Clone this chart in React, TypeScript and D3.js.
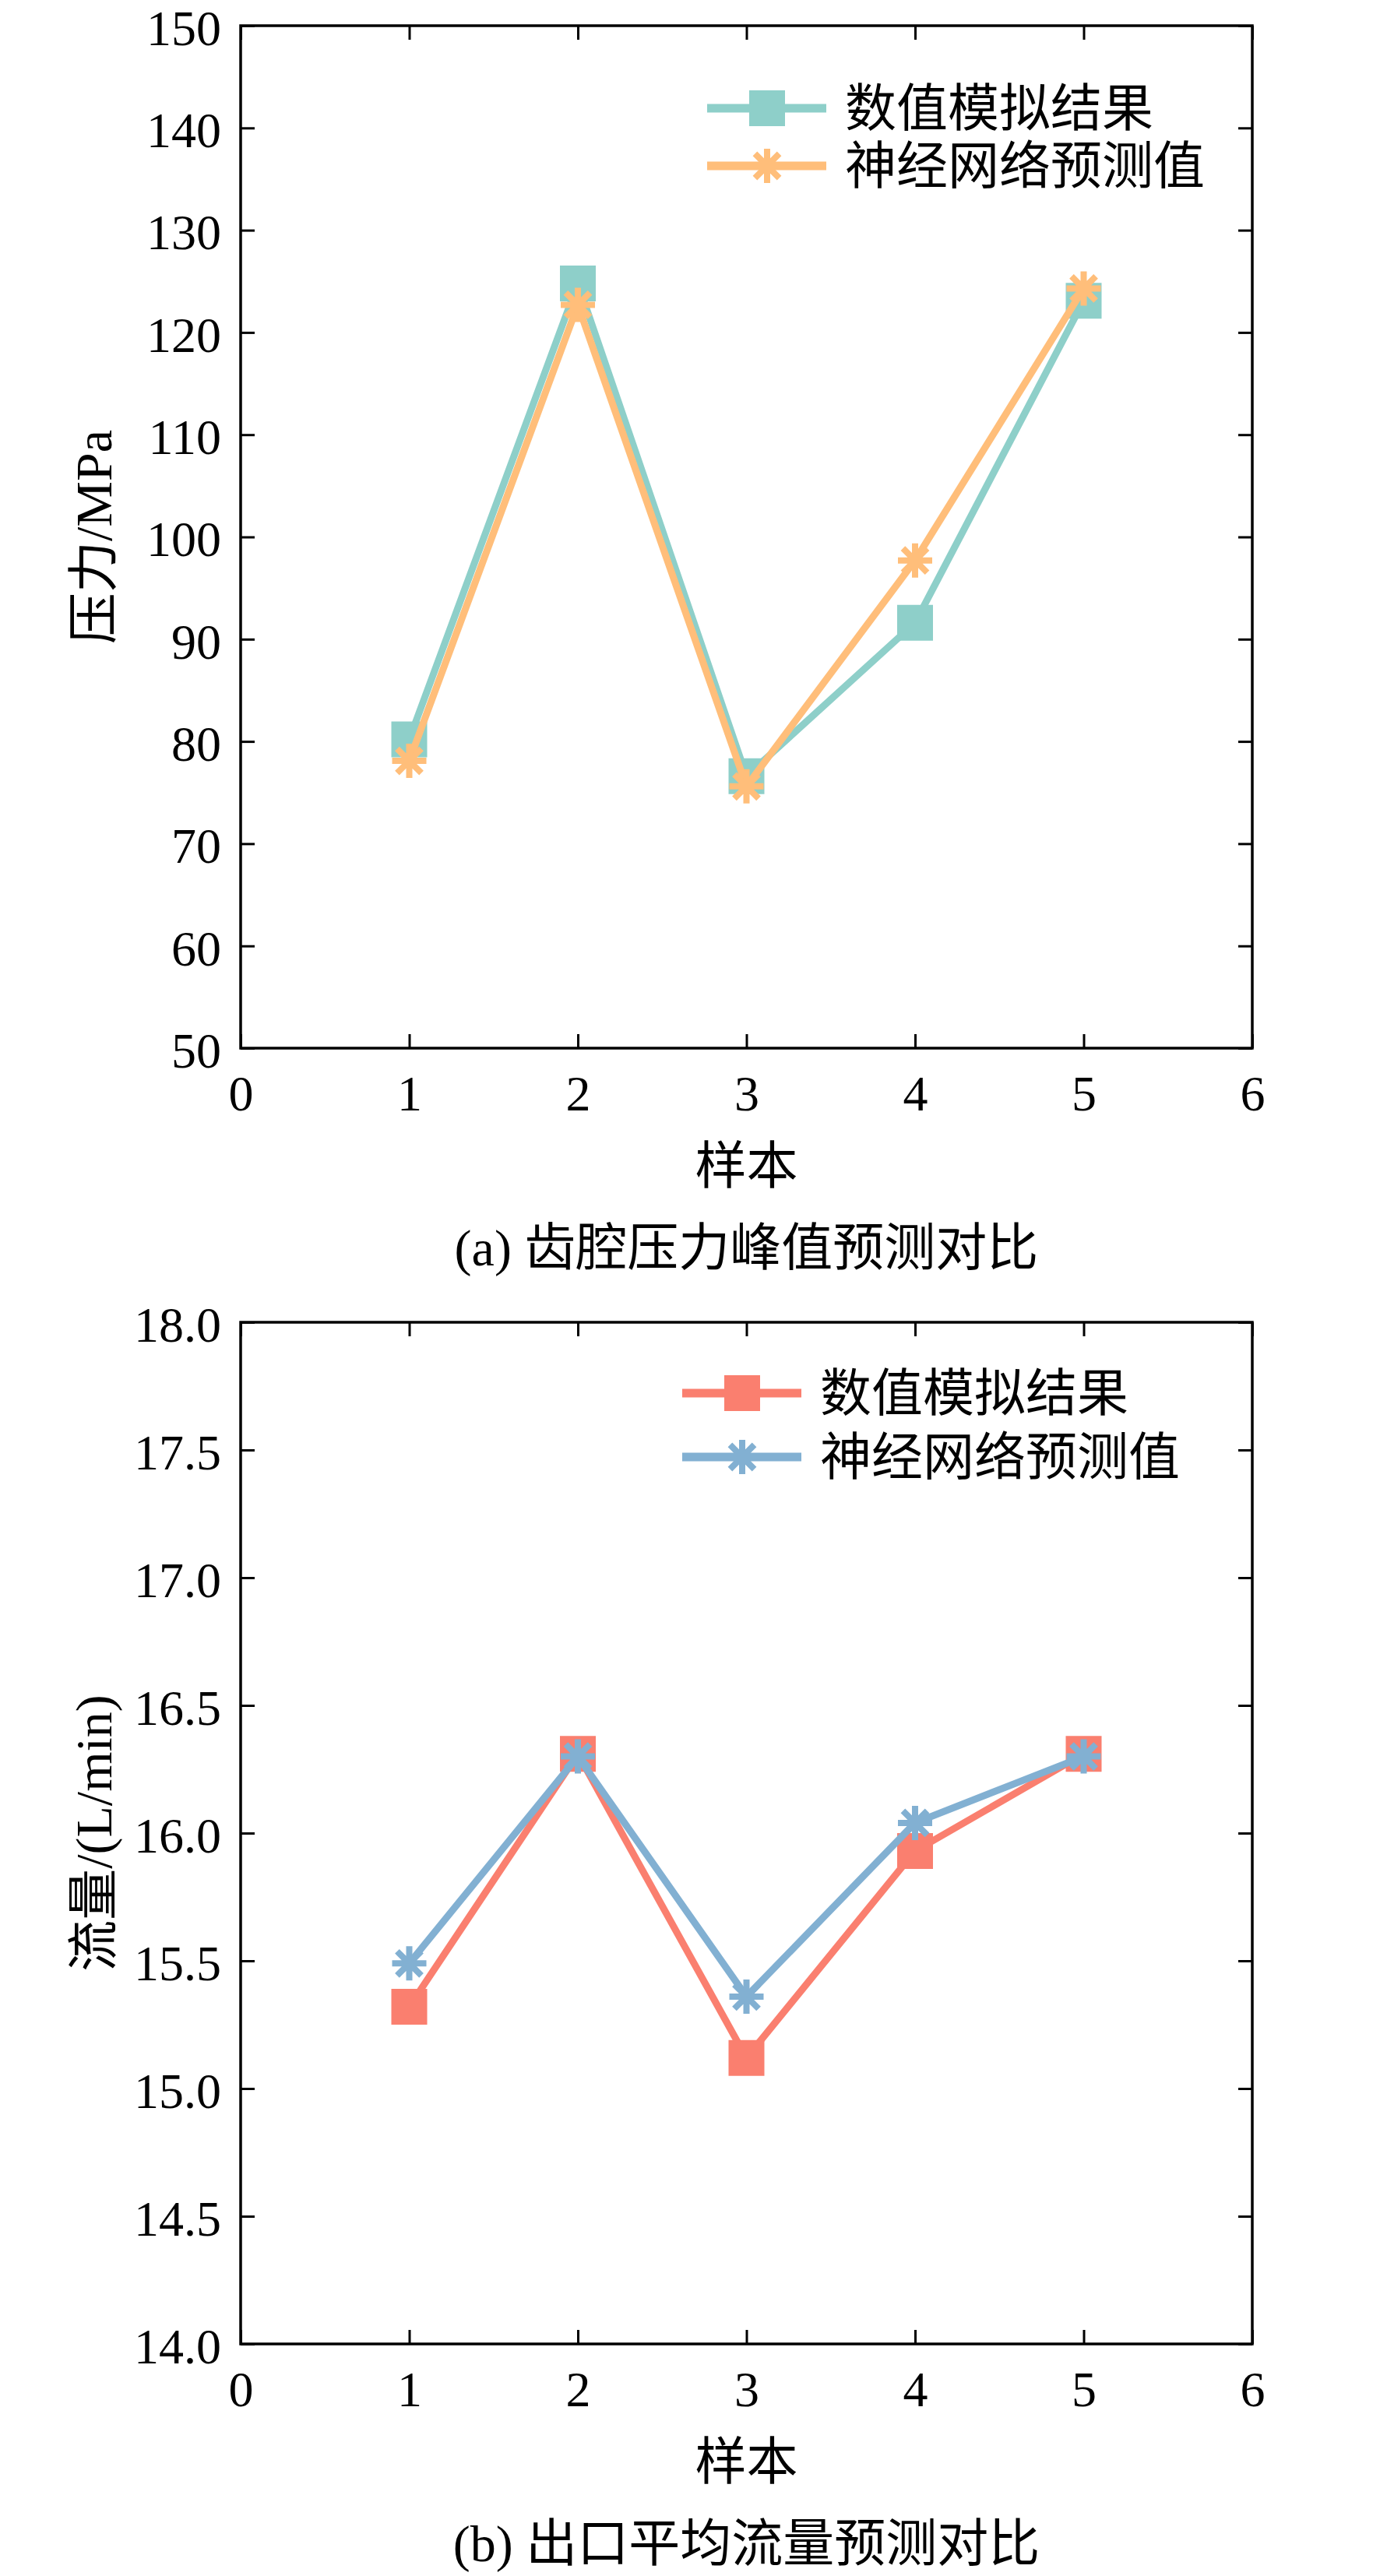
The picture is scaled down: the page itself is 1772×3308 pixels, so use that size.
import React, { useEffect, useRef } from 'react';
import * as d3 from 'd3';

// samples on the x axis
const samples = [1, 2, 3, 4, 5];
const xTicks = [0, 1, 2, 3, 4, 5, 6];

// (a) peak pressure, MPa
const pressureSim = [80.2, 124.8, 76.6, 91.6, 123.1];
const pressureNN = [78.1, 122.7, 75.6, 97.7, 124.3];
const pressureTicks = [50, 60, 70, 80, 90, 100, 110, 120, 130, 140, 150];

// (b) mean outlet flow, L/min
const flowSim = [15.32, 16.31, 15.12, 15.93, 16.31];
const flowNN = [15.49, 16.3, 15.36, 16.04, 16.3];
const flowTicks = [14.0, 14.5, 15.0, 15.5, 16.0, 16.5, 17.0, 17.5, 18.0];

const seriesNames = ['数值模拟结果', '神经网络预测值'];

const FONT = "'Liberation Serif', 'Times New Roman', 'Noto Sans CJK SC', serif";

function asteriskPath(r: number) {
  const d = r * Math.SQRT1_2;
  return `M0,${-r}L0,${r}M${-r},0L${r},0M${-d},${-d}L${d},${d}M${-d},${d}L${d},${-d}`;
}

const App: React.FC = () => {
  const ref = useRef<SVGSVGElement | null>(null);

  useEffect(() => {
    const svg = d3.select(ref.current);
    svg.selectAll('*').remove();

    const left = 309, right = 1608;
    const x = d3.scaleLinear().domain([0, 6]).range([left, right]);

    const panels = [
      {
        top: 33, bottom: 1346, domain: [50, 150], ticks: pressureTicks, fmt: d3.format('d'),
        sim: pressureSim, nn: pressureNN, colors: ['#8ECFC9', '#FFBE7A'],
        yLabel: '压力/MPa', caption: '(a) 齿腔压力峰值预测对比',
        legendX: 908, legendY: 139, legendGap: 74,
      },
      {
        top: 1698, bottom: 3010, domain: [14, 18], ticks: flowTicks, fmt: d3.format('.1f'),
        sim: flowSim, nn: flowNN, colors: ['#FA7F6F', '#82B0D2'],
        yLabel: '流量/(L/min)', caption: '(b) 出口平均流量预测对比',
        legendX: 876, legendY: 1789, legendGap: 82,
      },
    ];

    panels.forEach(p => {
      const y = d3.scaleLinear().domain(p.domain).range([p.bottom, p.top]);
      const g = svg.append('g');

      // axes with inward ticks on all four sides
      const styleAxis = (sel: any) => {
        sel.select('.domain').remove();
        sel.selectAll('.tick line').attr('stroke', '#000').attr('stroke-width', 3);
        sel.selectAll('.tick text')
          .attr('font-family', FONT)
          .attr('font-size', 64)
          .attr('fill', '#000');
      };

      g.append('g')
        .attr('transform', `translate(0,${p.bottom})`)
        .call(d3.axisBottom(x).tickValues(xTicks).tickFormat(d3.format('d')).tickSizeInner(-18).tickSizeOuter(0).tickPadding(35))
        .call(styleAxis);
      g.append('g')
        .attr('transform', `translate(0,${p.top})`)
        .call(d3.axisTop(x).tickValues(xTicks).tickFormat(() => '').tickSizeInner(-18).tickSizeOuter(0))
        .call(styleAxis);
      g.append('g')
        .attr('transform', `translate(${left},0)`)
        .call(d3.axisLeft(y).tickValues(p.ticks).tickFormat(p.fmt as any).tickSizeInner(-18).tickSizeOuter(0).tickPadding(25))
        .call(styleAxis)
        .call((sel: any) => sel.selectAll('.tick text').attr('dy', '0.38em'));
      g.append('g')
        .attr('transform', `translate(${right},0)`)
        .call(d3.axisRight(y).tickValues(p.ticks).tickFormat(() => '').tickSizeInner(-18).tickSizeOuter(0))
        .call(styleAxis);

      g.append('rect')
        .attr('x', left).attr('y', p.top)
        .attr('width', right - left).attr('height', p.bottom - p.top)
        .attr('fill', 'none').attr('stroke', '#000').attr('stroke-width', 3.5);

      // series
      const line = d3.line<number>().x((_, i) => x(samples[i])).y(d => y(d));
      const square = d3.symbol().type(d3.symbolSquare).size(46 * 46)();

      [p.sim, p.nn].forEach((vals, si) => {
        const c = p.colors[si];
        g.append('path')
          .datum(vals)
          .attr('d', line)
          .attr('fill', 'none')
          .attr('stroke', c)
          .attr('stroke-width', 9)
          .attr('stroke-linejoin', 'miter');
        const marks = g.selectAll(null)
          .data(vals)
          .enter()
          .append('path')
          .attr('transform', (d, i) => `translate(${x(samples[i])},${y(d)})`);
        if (si === 0) {
          marks.attr('d', square).attr('fill', c);
        } else {
          marks.attr('d', asteriskPath(22)).attr('fill', 'none').attr('stroke', c).attr('stroke-width', 8);
        }
      });

      // legend
      seriesNames.forEach((name, si) => {
        const ly = p.legendY + si * p.legendGap;
        const c = p.colors[si];
        const lg = g.append('g');
        lg.append('line')
          .attr('x1', p.legendX).attr('x2', p.legendX + 153)
          .attr('y1', ly).attr('y2', ly)
          .attr('stroke', c).attr('stroke-width', 11);
        const m = lg.append('path').attr('transform', `translate(${p.legendX + 77},${ly})`);
        if (si === 0) m.attr('d', square).attr('fill', c);
        else m.attr('d', asteriskPath(22)).attr('fill', 'none').attr('stroke', c).attr('stroke-width', 8);
        lg.append('text')
          .attr('x', p.legendX + 177)
          .attr('y', ly)
          .attr('dominant-baseline', 'central')
          .attr('font-family', FONT)
          .attr('font-size', 66)
          .attr('fill', '#000')
          .text(name);
      });

      // axis titles and caption
      const midY = (p.top + p.bottom) / 2;
      const midX = (left + right) / 2;
      g.append('text')
        .attr('transform', `translate(120,${midY}) rotate(-90)`)
        .attr('text-anchor', 'middle')
        .attr('dominant-baseline', 'central')
        .attr('font-family', FONT)
        .attr('font-size', 66)
        .text(p.yLabel);
      g.append('text')
        .attr('x', midX)
        .attr('y', p.bottom + 151)
        .attr('text-anchor', 'middle')
        .attr('dominant-baseline', 'central')
        .attr('font-family', FONT)
        .attr('font-size', 66)
        .text('样本');
      g.append('text')
        .attr('x', midX)
        .attr('y', p.bottom + 256)
        .attr('text-anchor', 'middle')
        .attr('dominant-baseline', 'central')
        .attr('font-family', FONT)
        .attr('font-size', 66)
        .text(p.caption);
    });
  }, []);

  return (
    <svg
      ref={ref}
      width={1772}
      height={3308}
      style={{ position: 'absolute', left: 0, top: 0, background: '#fff' }}
    />
  );
};

export default App;
